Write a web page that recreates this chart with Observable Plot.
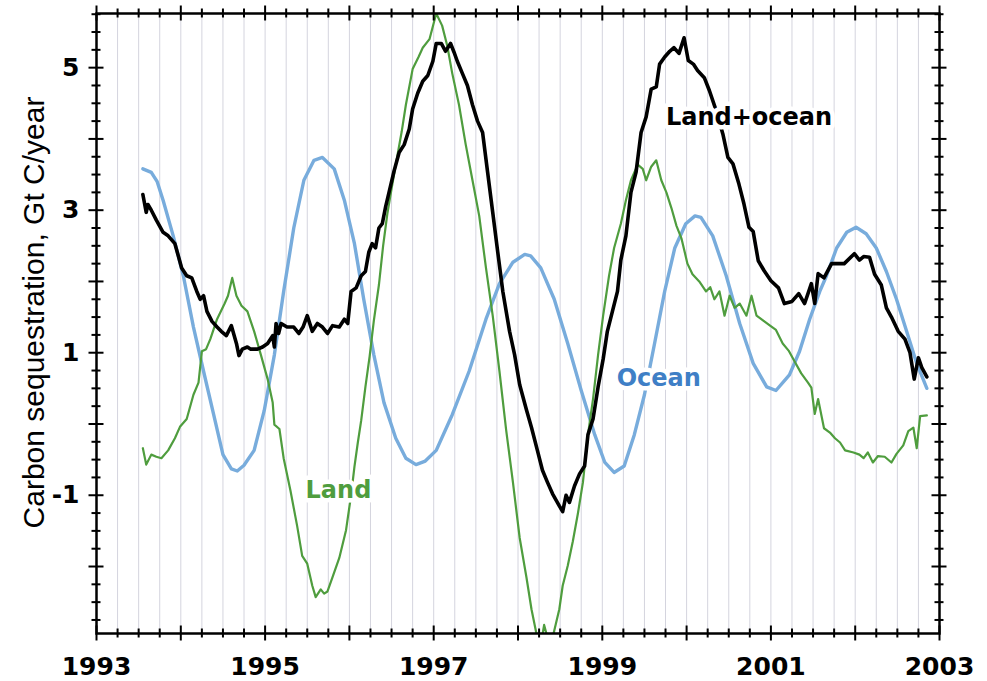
<!DOCTYPE html>
<html><head><meta charset="utf-8">
<script src="https://cdn.jsdelivr.net/npm/d3@7"></script>
<script src="https://cdn.jsdelivr.net/npm/@observablehq/plot@0.6"></script>
<style>body{margin:0;background:#fff}</style>
</head><body><div id="chart"></div>
<script>
// ---- data ----
const oceanYears = [1993.55,1993.65,1993.72,1993.79,1993.91,1994.03,1994.15,1994.27,1994.39,1994.50,1994.60,1994.67,1994.75,1994.87,1994.99,1995.11,1995.22,1995.34,1995.46,1995.58,1995.68,1995.82,1995.94,1996.06,1996.17,1996.29,1996.41,1996.55,1996.67,1996.79,1996.90,1997.03,1997.22,1997.42,1997.62,1997.78,1997.94,1998.08,1998.15,1998.27,1998.43,1998.59,1998.75,1998.91,1999.03,1999.14,1999.26,1999.38,1999.50,1999.62,1999.74,1999.86,1999.99,2000.10,2000.17,2000.31,2000.47,2000.63,2000.79,2000.95,2001.06,2001.22,2001.34,2001.46,2001.58,2001.66,2001.78,2001.90,2002.01,2002.13,2002.25,2002.37,2002.49,2002.61,2002.73,2002.85];
const oceanValues = [3.58,3.53,3.40,3.14,2.64,2.08,1.36,0.74,0.13,-0.43,-0.63,-0.66,-0.58,-0.37,0.19,0.97,1.86,2.75,3.42,3.70,3.74,3.58,3.14,2.53,1.75,0.97,0.30,-0.20,-0.48,-0.57,-0.52,-0.37,0.13,0.74,1.47,1.97,2.27,2.38,2.36,2.19,1.75,1.13,0.47,-0.15,-0.54,-0.68,-0.59,-0.15,0.41,1.13,1.86,2.47,2.81,2.92,2.90,2.64,2.08,1.41,0.85,0.52,0.47,0.69,1.02,1.47,1.86,2.08,2.47,2.69,2.76,2.67,2.47,2.14,1.75,1.30,0.85,0.50];

const landYears = [1993.55,1993.59,1993.65,1993.71,1993.77,1993.85,1993.93,1993.99,1994.07,1994.15,1994.21,1994.25,1994.30,1994.35,1994.43,1994.52,1994.56,1994.61,1994.66,1994.72,1994.79,1994.87,1994.95,1995.03,1995.09,1995.11,1995.17,1995.22,1995.30,1995.38,1995.44,1995.50,1995.56,1995.60,1995.66,1995.70,1995.74,1995.80,1995.88,1995.96,1996.02,1996.06,1996.10,1996.14,1996.19,1996.24,1996.29,1996.35,1996.40,1996.45,1996.50,1996.55,1996.62,1996.67,1996.75,1996.82,1996.87,1996.95,1997.03,1997.10,1997.16,1997.22,1997.30,1997.38,1997.46,1997.54,1997.62,1997.70,1997.78,1997.86,1997.94,1998.02,1998.10,1998.16,1998.22,1998.27,1998.31,1998.35,1998.40,1998.45,1998.49,1998.53,1998.59,1998.65,1998.71,1998.77,1998.83,1998.89,1998.95,1999.01,1999.08,1999.14,1999.22,1999.28,1999.34,1999.42,1999.48,1999.52,1999.58,1999.64,1999.70,1999.76,1999.82,1999.88,1999.94,2000.01,2000.07,2000.15,2000.23,2000.28,2000.33,2000.39,2000.45,2000.51,2000.57,2000.63,2000.71,2000.77,2000.83,2000.91,2000.99,2001.06,2001.14,2001.21,2001.28,2001.36,2001.44,2001.48,2001.52,2001.56,2001.63,2001.70,2001.76,2001.82,2001.88,2001.98,2002.05,2002.10,2002.15,2002.21,2002.27,2002.35,2002.43,2002.49,2002.57,2002.63,2002.69,2002.73,2002.77,2002.85];
const landValues = [-0.34,-0.57,-0.43,-0.46,-0.48,-0.37,-0.20,-0.04,0.07,0.41,0.58,1.02,1.05,1.19,1.47,1.69,1.80,2.05,1.80,1.66,1.58,1.30,0.97,0.63,0.30,-0.01,-0.07,-0.48,-0.93,-1.43,-1.85,-1.96,-2.27,-2.43,-2.32,-2.38,-2.35,-2.15,-1.88,-1.49,-1.00,-0.60,-0.26,0.05,0.52,0.95,1.45,1.95,2.50,2.95,3.30,3.64,4.10,4.48,4.98,5.15,5.28,5.40,5.76,5.59,5.31,4.92,4.48,3.92,3.42,2.92,2.19,1.52,0.74,-0.09,-0.82,-1.60,-2.15,-2.60,-2.95,-3.10,-2.82,-3.00,-3.05,-2.80,-2.60,-2.27,-1.99,-1.65,-1.26,-0.82,-0.15,0.35,0.97,1.52,2.08,2.47,2.81,3.14,3.42,3.64,3.58,3.42,3.61,3.70,3.42,3.25,3.03,2.78,2.60,2.25,2.10,2.00,1.86,1.92,1.75,1.86,1.52,1.80,1.63,1.69,1.52,1.80,1.52,1.45,1.38,1.32,1.13,1.03,0.88,0.71,0.58,0.51,0.14,0.35,-0.06,-0.12,-0.20,-0.26,-0.37,-0.40,-0.43,-0.48,-0.40,-0.54,-0.45,-0.46,-0.54,-0.42,-0.30,-0.10,-0.05,-0.34,0.11,0.12];

const totalYears = [1993.55,1993.59,1993.61,1993.65,1993.71,1993.79,1993.85,1993.93,1993.97,1994.01,1994.07,1994.13,1994.19,1994.23,1994.27,1994.31,1994.37,1994.43,1994.48,1994.54,1994.60,1994.66,1994.69,1994.73,1994.79,1994.83,1994.91,1994.97,1995.03,1995.09,1995.11,1995.13,1995.16,1995.19,1995.26,1995.34,1995.40,1995.45,1995.50,1995.56,1995.62,1995.68,1995.74,1995.80,1995.88,1995.94,1995.98,1996.02,1996.08,1996.14,1996.19,1996.23,1996.27,1996.31,1996.35,1996.39,1996.43,1996.47,1996.53,1996.59,1996.65,1996.71,1996.75,1996.81,1996.87,1996.93,1996.99,1997.03,1997.09,1997.14,1997.20,1997.24,1997.28,1997.34,1997.40,1997.46,1997.52,1997.58,1997.64,1997.70,1997.76,1997.82,1997.90,1997.96,1998.02,1998.10,1998.16,1998.23,1998.29,1998.35,1998.41,1998.49,1998.53,1998.57,1998.61,1998.67,1998.73,1998.79,1998.83,1998.89,1998.95,1999.01,1999.06,1999.12,1999.18,1999.22,1999.28,1999.34,1999.40,1999.46,1999.52,1999.58,1999.64,1999.68,1999.74,1999.80,1999.85,1999.91,1999.97,2000.02,2000.08,2000.13,2000.21,2000.27,2000.35,2000.43,2000.49,2000.55,2000.62,2000.68,2000.74,2000.79,2000.85,2000.92,2001.00,2001.09,2001.16,2001.25,2001.33,2001.40,2001.48,2001.52,2001.56,2001.63,2001.72,2001.87,2001.99,2002.05,2002.10,2002.17,2002.23,2002.31,2002.37,2002.43,2002.51,2002.59,2002.65,2002.70,2002.75,2002.79,2002.85];
const totalValues = [3.22,2.97,3.08,3.00,2.86,2.69,2.64,2.53,2.36,2.19,2.08,2.05,1.86,1.75,1.80,1.58,1.44,1.36,1.30,1.24,1.38,1.13,0.96,1.05,1.08,1.05,1.05,1.08,1.13,1.24,1.08,1.41,1.27,1.41,1.36,1.36,1.27,1.36,1.52,1.30,1.41,1.36,1.27,1.38,1.36,1.47,1.41,1.86,1.91,2.08,2.14,2.41,2.53,2.47,2.75,2.81,3.05,3.25,3.55,3.81,3.92,4.14,4.42,4.64,4.81,4.89,5.09,5.34,5.34,5.23,5.34,5.22,5.09,4.92,4.75,4.48,4.25,4.09,3.53,2.97,2.41,1.86,1.30,0.97,0.55,0.20,-0.05,-0.37,-0.65,-0.82,-0.98,-1.15,-1.23,-1.00,-1.10,-0.87,-0.70,-0.59,-0.15,0.07,0.52,0.91,1.30,1.58,1.86,2.30,2.64,3.25,3.53,4.09,4.31,4.70,4.73,5.05,5.15,5.23,5.28,5.20,5.42,5.10,5.05,4.96,4.86,4.68,4.40,4.07,3.74,3.65,3.37,3.09,2.76,2.70,2.29,2.15,2.01,1.91,1.69,1.72,1.83,1.69,1.97,1.69,2.11,2.05,2.25,2.25,2.39,2.30,2.35,2.34,2.10,1.95,1.63,1.50,1.30,1.19,1.00,0.63,0.93,0.79,0.66];

const seriesLabels = ["Land+ocean", "Ocean", "Land"];
const labelYears = [2000.74, 1999.67, 1995.87];
const labelValues = [4.31, 0.64, -0.93];

const xTickLabels = [1993, 1995, 1997, 1999, 2001, 2003];
const yTickLabels = [-1, 1, 3, 5];
const yAxisTitle = "Carbon sequestration, Gt C/year";

// ---- layout / style ----
const W = 987, H = 681, mL = 96, mT = 13, mR = 48, mB = 48;
const plotW = W - mL - mR, plotH = H - mT - mB;
const oceanColor = "#78acdc", landColor = "#4f9d3e", totalColor = "#000000";
const labelColors = ["#000000", "#3f7fc6", "#4f9d3e"];

const rows = (xs, ys) => xs.map((x, i) => ({x, y: ys[i]}));
const ocean = rows(oceanYears, oceanValues);
const land = rows(landYears, landValues);
const total = rows(totalYears, totalValues);

const xMinor = d3.range(1993, 2003.001, 0.25).filter(d => !Number.isInteger(d));
const xMajor = d3.range(1993, 2003.001, 1);
const yMinor = d3.range(-2.75, 5.76, 0.25).filter(d => !Number.isInteger(d));
const yMajor = d3.range(-2, 5.001, 1);
const gridX = d3.range(1993.25, 2003, 0.25);

const tMin = 4.5, tMaj = 7.5, tW = 2;

const labelMarks = seriesLabels.map((s, i) => Plot.text([s], {
  x: () => labelYears[i], y: () => labelValues[i], text: d => d,
  fill: labelColors[i], fontSize: 24, fontWeight: "bold", fontFamily: "DejaVu Sans",
  stroke: "white", strokeWidth: 9, paintOrder: "stroke"
}));

const chart = Plot.plot({
  width: W, height: H,
  marginLeft: mL, marginTop: mT, marginRight: mR, marginBottom: mB,
  x: {domain: [1993, 2003], label: null},
  y: {domain: [-2.94, 5.76], label: null},
  style: {background: "white", fontFamily: "DejaVu Sans", color: "black"},
  marks: [
    Plot.ruleX(gridX, {x: d => d, stroke: "#d4d4de", strokeWidth: 1}),
    Plot.line(ocean, {x: "x", y: "y", stroke: oceanColor, strokeWidth: 3.4, clip: true}),
    Plot.line(land, {x: "x", y: "y", stroke: landColor, strokeWidth: 2.2, clip: true}),
    Plot.line(total, {x: "x", y: "y", stroke: totalColor, strokeWidth: 3.6, clip: true}),
    ...labelMarks,
    Plot.frame({stroke: "black", strokeWidth: 2.5}),
    // ticks crossing the frame on all four sides
    Plot.ruleX(xMinor, {x: d => d, insetTop: plotH - tMin, insetBottom: -tMin, strokeWidth: tW}),
    Plot.ruleX(xMinor, {x: d => d, insetTop: -tMin, insetBottom: plotH - tMin, strokeWidth: tW}),
    Plot.ruleX(xMajor, {x: d => d, insetTop: plotH - tMaj, insetBottom: -tMaj, strokeWidth: tW}),
    Plot.ruleX(xMajor, {x: d => d, insetTop: -tMaj, insetBottom: plotH - tMaj, strokeWidth: tW}),
    Plot.ruleY(yMinor, {y: d => d, insetLeft: -tMin, insetRight: plotW - tMin, strokeWidth: tW}),
    Plot.ruleY(yMinor, {y: d => d, insetLeft: plotW - tMin, insetRight: -tMin, strokeWidth: tW}),
    Plot.ruleY(yMajor, {y: d => d, insetLeft: -tMaj, insetRight: plotW - tMaj, strokeWidth: tW}),
    Plot.ruleY(yMajor, {y: d => d, insetLeft: plotW - tMaj, insetRight: -tMaj, strokeWidth: tW}),
    Plot.axisX(xTickLabels, {anchor: "bottom", tickSize: 0, tickPadding: 24, fontSize: 25, fontWeight: "bold", tickFormat: d => String(d), label: null}),
    Plot.axisY(yTickLabels, {anchor: "left", tickSize: 0, tickPadding: 17, fontSize: 25, fontWeight: "bold", tickFormat: d => String(d), label: null}),
    Plot.text([yAxisTitle], {frameAnchor: "left", textAnchor: "middle", lineAnchor: "middle", dx: -62, dy: -11, rotate: -90, text: d => d, fontSize: 30, fontFamily: "Liberation Sans", fill: "black"})
  ]
});
document.getElementById("chart").appendChild(chart);
</script>
</body></html>
